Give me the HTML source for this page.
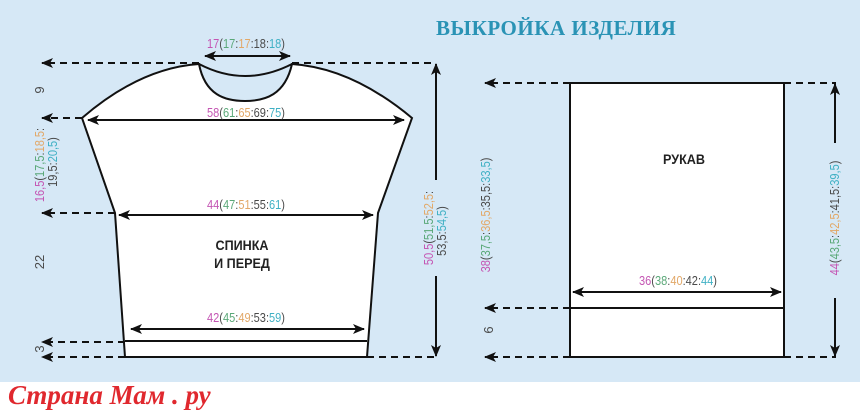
<!DOCTYPE html>
<html><head><meta charset="utf-8"><style>
html,body{margin:0;padding:0;background:#fff;}
svg{display:block}
text{font-family:"Liberation Sans",sans-serif;}
.m{fill:#c455b3}.g{fill:#5aa878}.o{fill:#e2a868}.k{fill:#4a4a4a}.c{fill:#3fb0c4}
</style></head><body>
<svg width="860" height="416" viewBox="0 0 860 416" xmlns="http://www.w3.org/2000/svg">
<defs>
<marker id="a" viewBox="0 0 12 10" refX="11" refY="5" markerWidth="12" markerHeight="10" markerUnits="userSpaceOnUse" orient="auto-start-reverse"><path d="M0,0 L12,5 L0,10 L3,5 Z" fill="#111"/></marker>
</defs>
<rect x="0" y="0" width="860" height="382" fill="#d6e8f6"/>
<text x="436" y="35" font-weight="bold" font-size="21" fill="#2a93b5" style="font-family:'Liberation Serif','DejaVu Serif',serif" letter-spacing="0.5">ВЫКРОЙКА ИЗДЕЛИЯ</text>

<g stroke="#111" stroke-width="2" fill="none">
<path d="M199,64 Q140,68 82,118 L115,213 L125,357 L367,357 L378,213 L412,118 Q352,68 292,64 C285,95 265,101 245,101 C225,101 205,95 199,64 Z" fill="#fff"/>
<path d="M199,64 Q245,88 292,64"/>
<line x1="125" y1="341" x2="367" y2="341"/>
<rect x="570" y="83" width="214" height="274" fill="#fff"/>
<line x1="570" y1="308" x2="784" y2="308"/>
</g>
<g stroke="#111" stroke-width="2" fill="none" stroke-dasharray="7,5">
<line x1="199" y1="63" x2="42" y2="63" marker-end="url(#a)"/>
<line x1="292" y1="63" x2="436" y2="63"/>
<line x1="82" y1="118" x2="42" y2="118" marker-end="url(#a)"/>
<line x1="115" y1="213" x2="42" y2="213" marker-end="url(#a)"/>
<line x1="125" y1="342" x2="42" y2="342" marker-end="url(#a)"/>
<line x1="125" y1="357" x2="42" y2="357" marker-end="url(#a)"/>
<line x1="367" y1="357" x2="436" y2="357"/>
<line x1="570" y1="83" x2="485" y2="83" marker-end="url(#a)"/>
<line x1="570" y1="308" x2="485" y2="308" marker-end="url(#a)"/>
<line x1="570" y1="357" x2="485" y2="357" marker-end="url(#a)"/>
<line x1="784" y1="83" x2="836" y2="83"/>
<line x1="784" y1="357" x2="836" y2="357"/>
</g>
<g stroke="#111" stroke-width="2" fill="none">
<line x1="205" y1="56" x2="290" y2="56" marker-start="url(#a)" marker-end="url(#a)"/>
<line x1="88" y1="120" x2="404" y2="120" marker-start="url(#a)" marker-end="url(#a)"/>
<line x1="119" y1="215" x2="373" y2="215" marker-start="url(#a)" marker-end="url(#a)"/>
<line x1="131" y1="329" x2="364" y2="329" marker-start="url(#a)" marker-end="url(#a)"/>
<line x1="573" y1="292" x2="781" y2="292" marker-start="url(#a)" marker-end="url(#a)"/>
<line x1="436" y1="180" x2="436" y2="64" marker-end="url(#a)"/>
<line x1="436" y1="276" x2="436" y2="356" marker-end="url(#a)"/>
<line x1="835" y1="143" x2="835" y2="84" marker-end="url(#a)"/>
<line x1="835" y1="298" x2="835" y2="356" marker-end="url(#a)"/>
</g>

<g font-size="13" text-anchor="middle">
<text transform="translate(246,48) scale(0.85,1)"><tspan class="m">17</tspan><tspan class="k">(</tspan><tspan class="g">17</tspan><tspan class="k">:</tspan><tspan class="o">17</tspan><tspan class="k">:18:</tspan><tspan class="c">18</tspan><tspan class="k">)</tspan></text>
<text transform="translate(246,117) scale(0.85,1)"><tspan class="m">58</tspan><tspan class="k">(</tspan><tspan class="g">61</tspan><tspan class="k">:</tspan><tspan class="o">65</tspan><tspan class="k">:69:</tspan><tspan class="c">75</tspan><tspan class="k">)</tspan></text>
<text transform="translate(246,209) scale(0.85,1)"><tspan class="m">44</tspan><tspan class="k">(</tspan><tspan class="g">47</tspan><tspan class="k">:</tspan><tspan class="o">51</tspan><tspan class="k">:55:</tspan><tspan class="c">61</tspan><tspan class="k">)</tspan></text>
<text transform="translate(246,322) scale(0.85,1)"><tspan class="m">42</tspan><tspan class="k">(</tspan><tspan class="g">45</tspan><tspan class="k">:</tspan><tspan class="o">49</tspan><tspan class="k">:53:</tspan><tspan class="c">59</tspan><tspan class="k">)</tspan></text>
<text transform="translate(678,285) scale(0.85,1)"><tspan class="m">36</tspan><tspan class="k">(</tspan><tspan class="g">38</tspan><tspan class="k">:</tspan><tspan class="o">40</tspan><tspan class="k">:42:</tspan><tspan class="c">44</tspan><tspan class="k">)</tspan></text>

<text transform="translate(44,90) rotate(-90)" class="k">9</text>
<text transform="translate(44,262) rotate(-90)" class="k">22</text>
<text transform="translate(44,349) rotate(-90)" class="k">3</text>
<text transform="translate(493,330) rotate(-90)" class="k">6</text>
<text transform="translate(44,165) rotate(-90) scale(0.85,1)"><tspan class="m">16,5</tspan><tspan class="k">(</tspan><tspan class="g">17,5</tspan><tspan class="k">:</tspan><tspan class="o">18,5</tspan><tspan class="k">:</tspan></text>
<text transform="translate(57,162) rotate(-90) scale(0.85,1)"><tspan class="k">19,5:</tspan><tspan class="c">20,5</tspan><tspan class="k">)</tspan></text>
<text transform="translate(433,228) rotate(-90) scale(0.85,1)"><tspan class="m">50,5</tspan><tspan class="k">(</tspan><tspan class="g">51,5</tspan><tspan class="k">:</tspan><tspan class="o">52,5</tspan><tspan class="k">:</tspan></text>
<text transform="translate(446,231) rotate(-90) scale(0.85,1)"><tspan class="k">53,5:</tspan><tspan class="c">54,5</tspan><tspan class="k">)</tspan></text>
<text transform="translate(490,215) rotate(-90) scale(0.85,1)"><tspan class="m">38</tspan><tspan class="k">(</tspan><tspan class="g">37,5</tspan><tspan class="k">:</tspan><tspan class="o">36,5</tspan><tspan class="k">:35,5:</tspan><tspan class="c">33,5</tspan><tspan class="k">)</tspan></text>
<text transform="translate(839,218) rotate(-90) scale(0.85,1)"><tspan class="m">44</tspan><tspan class="k">(</tspan><tspan class="g">43,5</tspan><tspan class="k">:</tspan><tspan class="o">42,5</tspan><tspan class="k">:41,5:</tspan><tspan class="c">39,5</tspan><tspan class="k">)</tspan></text>
</g>
<g font-size="14" font-weight="bold" text-anchor="middle" fill="#222">
<text transform="translate(242,250) scale(0.9,1)">СПИНКА</text>
<text transform="translate(242,268) scale(0.9,1)">И ПЕРЕД</text>
<text transform="translate(684,164) scale(0.9,1)">РУКАВ</text>
</g>
<text x="8" y="404" font-style="italic" font-weight="bold" font-size="27" fill="#e0282e" style="font-family:'Liberation Serif',serif">Страна Мам . ру</text>
</svg>
</body></html>
